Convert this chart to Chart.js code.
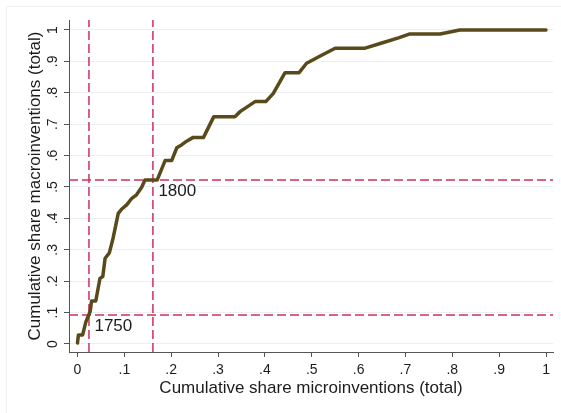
<!DOCTYPE html>
<html>
<head>
<meta charset="utf-8">
<script src="https://cdn.jsdelivr.net/npm/chart.js@4"></script>
<style>
  html, body { margin: 0; padding: 0; background: #fff; }
</style>
</head>
<body>
<canvas id="myChart" width="561" height="413"></canvas>
<script>
// Cumulative shares (x = microinventions, y = macroinventions)
const cumMicro = [0, 0.002, 0.011, 0.018, 0.027, 0.030, 0.039, 0.048, 0.054, 0.059,
  0.068, 0.076, 0.087, 0.094, 0.105, 0.116, 0.126, 0.137, 0.144, 0.170,
  0.187, 0.201, 0.212, 0.222, 0.233, 0.247, 0.269, 0.291, 0.336, 0.347,
  0.379, 0.402, 0.418, 0.443, 0.473, 0.489, 0.518, 0.550, 0.614, 0.646,
  0.685, 0.708, 0.774, 0.816, 1.0];
const cumMacro = [0.003, 0.029, 0.029, 0.071, 0.103, 0.137, 0.137, 0.209, 0.215, 0.273,
  0.290, 0.337, 0.416, 0.429, 0.443, 0.464, 0.475, 0.499, 0.522, 0.522,
  0.584, 0.584, 0.625, 0.634, 0.646, 0.658, 0.658, 0.724, 0.724, 0.740,
  0.772, 0.772, 0.798, 0.864, 0.864, 0.894, 0.917, 0.942, 0.942, 0.957,
  0.975, 0.987, 0.987, 1.0, 1.0];

// Reference years marked with dashed lines
const markerYears = ["1750", "1800"];
const markerMicro = [0.0245, 0.161];
const markerMacro = [0.092, 0.522];

// Axis ticks
const xTickValues = [0, 0.1, 0.2, 0.3, 0.4, 0.5, 0.6, 0.7, 0.8, 0.9, 1];
const xTickLabels = ["0", ".1", ".2", ".3", ".4", ".5", ".6", ".7", ".8", ".9", "1"];
const yTickValues = [0, 0.1, 0.2, 0.3, 0.4, 0.5, 0.6, 0.7, 0.8, 0.9, 1];
const yTickLabels = ["0", ".1", ".2", ".3", ".4", ".5", ".6", ".7", ".8", ".9", "1"];

const xMin = -0.0181, xMax = 1.0149;
const yMin = -0.0255, yMax = 1.0318;

const fontFamily = "'Liberation Sans', Arial, sans-serif";
const curveColor = "#5a491b";
const refColor = "#cf2f5b";
const gridColor = "#e9eff3";
const axisColor = "#555555";
const textColor = "#1c1c1c";

const curve = cumMicro.map((x, i) => ({ x: x, y: cumMacro[i] }));

// Dashed reference lines, one vertical and one horizontal per year
const refDatasets = [];
markerYears.forEach((year, i) => {
  refDatasets.push({
    label: year + " v",
    data: [{ x: markerMicro[i], y: yMin }, { x: markerMicro[i], y: yMax }],
    borderColor: refColor,
    borderWidth: 1.5,
    borderDash: [9, 4],
    pointRadius: 0,
    order: 2,
  });
  refDatasets.push({
    label: year + " h",
    data: [{ x: xMin, y: markerMacro[i] }, { x: xMax, y: markerMacro[i] }],
    borderColor: refColor,
    borderWidth: 1.5,
    borderDash: [9, 4],
    pointRadius: 0,
    order: 2,
  });
});

// Faint outer frame of the graph region
const outerFrame = {
  id: "outerFrame",
  beforeDraw(chart) {
    const ctx = chart.ctx;
    ctx.save();
    ctx.strokeStyle = "#edf1f4";
    ctx.lineWidth = 1;
    ctx.beginPath();
    ctx.moveTo(6.5, 413);
    ctx.lineTo(6.5, 6.5);
    ctx.lineTo(561, 6.5);
    ctx.stroke();
    ctx.restore();
  },
};

// Year labels next to the line crossings
const yearLabels = {
  id: "yearLabels",
  afterDatasetsDraw(chart) {
    const { ctx, scales: { x, y } } = chart;
    ctx.save();
    ctx.font = "17px " + fontFamily;
    ctx.fillStyle = textColor;
    ctx.textBaseline = "middle";
    ctx.textAlign = "left";
    markerYears.forEach((year, i) => {
      ctx.fillText(year, x.getPixelForValue(markerMicro[i]) + 5.5, y.getPixelForValue(markerMacro[i]) + 11.5);
    });
    ctx.restore();
  },
};

const ctx = document.getElementById("myChart");

new Chart(ctx, {
  type: "line",
  data: {
    datasets: [
      {
        label: "Cumulative share",
        data: curve,
        borderColor: curveColor,
        borderWidth: 3.5,
        borderJoinStyle: "round",
        borderCapStyle: "round",
        tension: 0,
        pointRadius: 0,
        order: 1,
      },
      ...refDatasets,
    ],
  },
  options: {
    responsive: false,
    animation: false,
    layout: { padding: { top: 20, right: 8, left: 0, bottom: 0 } },
    plugins: {
      legend: { display: false },
      tooltip: { enabled: false },
    },
    scales: {
      x: {
        type: "linear",
        min: xMin,
        max: xMax,
        afterBuildTicks: (scale) => {
          scale.ticks = xTickValues.map((v) => ({ value: v }));
        },
        afterFit: (scale) => {
          scale.height = 61;
        },
        ticks: {
          callback: (value, index) => xTickLabels[index],
          color: textColor,
          font: { family: fontFamily, size: 14 },
          padding: 5,
          maxRotation: 0,
          autoSkip: false,
        },
        grid: {
          drawOnChartArea: false,
          drawTicks: true,
          tickLength: 5,
          tickColor: axisColor,
        },
        border: { display: true, color: axisColor, width: 1 },
        title: {
          display: true,
          text: "Cumulative share microinventions (total)",
          color: textColor,
          font: { family: fontFamily, size: 17 },
          padding: { top: 0, bottom: 14.8 },
        },
      },
      y: {
        type: "linear",
        min: yMin,
        max: yMax,
        afterBuildTicks: (scale) => {
          scale.ticks = yTickValues.map((v) => ({ value: v }));
        },
        afterFit: (scale) => {
          scale.width = 69;
        },
        ticks: {
          callback: (value, index) => yTickLabels[index],
          color: textColor,
          font: { family: fontFamily, size: 14 },
          padding: 5,
          minRotation: 90,
          maxRotation: 90,
          crossAlign: "center",
          autoSkip: false,
        },
        grid: {
          color: gridColor,
          lineWidth: 1,
          drawTicks: true,
          tickLength: 5,
          tickColor: axisColor,
        },
        border: { display: true, color: axisColor, width: 1 },
        title: {
          display: true,
          text: "Cumulative share macroinventions (total)",
          color: textColor,
          font: { family: fontFamily, size: 17 },
          padding: { top: 24.8, bottom: 0 },
        },
      },
    },
  },
  plugins: [outerFrame, yearLabels],
});
</script>
</body>
</html>
